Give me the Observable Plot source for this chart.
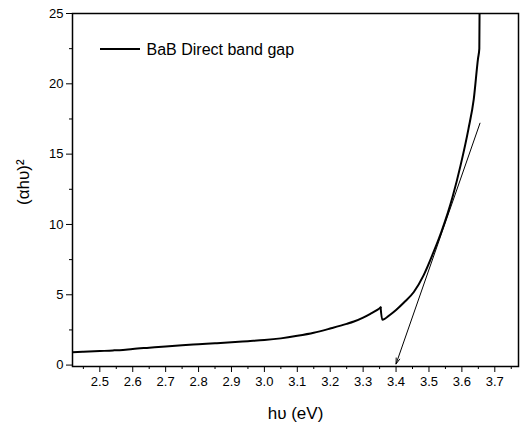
<!DOCTYPE html>
<html>
<head>
<meta charset="utf-8">
<script src="https://cdn.jsdelivr.net/npm/d3@7"></script>
<script src="https://cdn.jsdelivr.net/npm/@observablehq/plot@0.6"></script>
<style>
  body { margin: 0; background: #fff; }
  #chart svg { display: block; }
</style>
</head>
<body>
<div id="chart"></div>
<script>
// Photon energy (eV) — before the small step near 3.35 eV
const energyLow = [2.417, 2.45, 2.50, 2.54, 2.55, 2.56, 2.60, 2.65, 2.70, 2.75, 2.80, 2.85, 2.90, 2.95, 3.00,
  3.05, 3.10, 3.15, 3.20, 3.25, 3.272, 3.30, 3.322, 3.343, 3.353];
// (αhυ)^2
const absorptionLow = [0.91, 0.95, 1.00, 1.04, 1.06, 1.05, 1.15, 1.24, 1.33, 1.41, 1.48, 1.55, 1.62, 1.70, 1.78,
  1.90, 2.08, 2.30, 2.60, 2.93, 3.10, 3.38, 3.65, 3.93, 4.10];
// after the step
const energyHigh = [3.353, 3.358, 3.383, 3.40, 3.424, 3.454, 3.484, 3.515, 3.538, 3.571, 3.596, 3.62, 3.636,
  3.649, 3.653, 3.655];
const absorptionHigh = [4.10, 3.22, 3.60, 3.92, 4.45, 5.20, 6.40, 8.10, 9.50, 11.9, 14.2, 16.8, 18.9,
  21.8, 22.5, 30];
// Tangent (extrapolation) line
const tangentX = [3.655, 3.40];
const tangentY = [17.2, 0.08];

const xMajor = [2.5, 2.6, 2.7, 2.8, 2.9, 3.0, 3.1, 3.2, 3.3, 3.4, 3.5, 3.6, 3.7];
const xMinor = [2.45, 2.55, 2.65, 2.75, 2.85, 2.95, 3.05, 3.15, 3.25, 3.35, 3.45, 3.55, 3.65, 3.75];
const yMajor = [0, 5, 10, 15, 20, 25];
const yMinor = [2.5, 7.5, 12.5, 17.5, 22.5];

const seriesName = "BaB Direct band gap";
const xLabel = "hυ (eV)";
const yLabel = "(αhυ)²";

const data = [
  ...energyLow.map((e, i) => ({x: e, y: absorptionLow[i], part: "low"})),
  ...energyHigh.map((e, i) => ({x: e, y: absorptionHigh[i], part: "high"}))
];
const tangent = [{x1: tangentX[0], y1: tangentY[0], x2: tangentX[1], y2: tangentY[1]}];

const font = "Liberation Sans, Arial, Helvetica, sans-serif";

const chart = Plot.plot({
  width: 520,
  height: 427,
  marginLeft: 72,
  marginTop: 13,
  marginRight: 2,
  marginBottom: 61,
  style: {fontFamily: font, fontSize: "13px", color: "#000", background: "#fff"},
  x: {domain: [2.417, 3.772]},
  y: {domain: [-0.1, 25]},
  marks: [
    Plot.axisX({ticks: xMajor, tickSize: 6, tickPadding: 4, tickFormat: d3.format(".1f"), label: null, fontSize: 13}),
    Plot.axisX({ticks: xMinor, tickSize: 3, tickFormat: () => "", label: null}),
    Plot.axisY({ticks: yMajor, tickSize: 6, tickPadding: 3, tickFormat: d3.format("d"), label: null, fontSize: 13}),
    Plot.axisY({ticks: yMinor, tickSize: 3, tickFormat: () => "", label: null}),
    Plot.line(data, {x: "x", y: "y", z: "part", stroke: "#000", strokeWidth: 2, curve: "monotone-x", clip: true}),
    Plot.arrow(tangent, {x1: "x1", y1: "y1", x2: "x2", y2: "y2", stroke: "#000", strokeWidth: 1, headLength: 9, headAngle: 36}),
    Plot.frame({stroke: "#000", strokeWidth: 1.5}),
    Plot.text([seriesName], {text: d => d, frameAnchor: "top-left", dx: 74, dy: 36, textAnchor: "start", lineAnchor: "middle", fontSize: 16, fill: "#000"}),
    Plot.text([xLabel], {text: d => d, frameAnchor: "bottom", dy: 47, lineAnchor: "middle", fontSize: 17, fill: "#000"}),
    Plot.text([yLabel], {text: d => d, frameAnchor: "left", dx: -49, dy: 15, rotate: -90, lineAnchor: "middle", fontSize: 17, fill: "#000"})
  ]
});

// legend line sample
d3.select(chart).append("line")
  .attr("x1", 100).attr("x2", 140).attr("y1", 49).attr("y2", 49)
  .attr("stroke", "#000").attr("stroke-width", 2);

document.getElementById("chart").appendChild(chart);
</script>
</body>
</html>
